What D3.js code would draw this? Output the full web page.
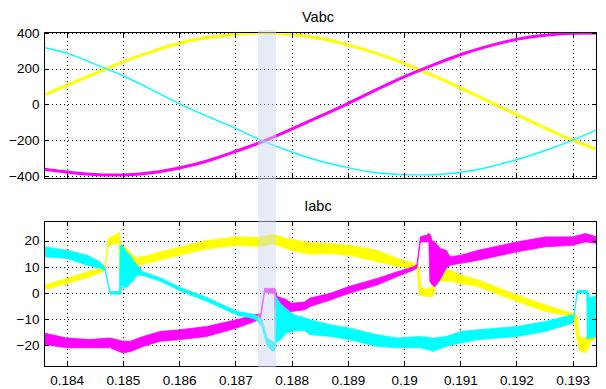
<!DOCTYPE html>
<html>
<head>
<meta charset="utf-8">
<script src="https://cdn.jsdelivr.net/npm/d3@7"></script>
<style>
  html, body { margin: 0; padding: 0; background: #fff; }
  svg { display: block; }
  text { font-family: "Liberation Sans", Arial, sans-serif; fill: #000; }
</style>
</head>
<body>
<svg id="chart" width="606" height="389"></svg>
<script>
// ---- time axis (milliseconds) ----
const timeDomain = [183.596, 193.432];
const timeTicks = [184, 185, 186, 187, 188, 189, 190, 191, 192, 193];

// ---- phase voltages, sampled every 0.5 ms ----
const voltTime = [183.5, 184.0, 184.5, 185.0, 185.5, 186.0, 186.5, 187.0, 187.5, 188.0,
                  188.5, 189.0, 189.5, 190.0, 190.5, 191.0, 191.5, 192.0, 192.5, 193.0, 193.5];
const vaValues = [40, 106, 172, 237, 293, 341, 373, 392, 399, 392, 369, 332, 286, 229, 163, 93, 19, -57, -130, -199, -258];
const vbValues = [-358, -376, -391, -393, -381, -354, -315, -262, -205, -138, -67, 5, 81, 154, 218, 277, 325, 363, 386, 397, 399];
const vcValues = [324, 286, 225, 160, 84, 4, -67, -133, -205, -265, -315, -352, -381, -391, -392, -379, -350, -308, -258, -199, -132];
const voltTicks = [-400, -200, 0, 200, 400];

// ---- phase currents: [time ms, ripple low, ripple high] ----
const iaBand = [
  [183.60, 1.1, 3.0], [184.00, 3.6, 5.5], [184.41, 6.2, 8.3], [184.65, 8.1, 9.6],
  [184.68, 8.6, 10.0], [184.74, 18.0, 21.0], [184.80, 18.5, 21.5], [184.90, 19.0, 22.5],
  [184.93, 19.5, 23.3], [184.94, 4.0, 22.5], [184.96, 9.0, 18.2], [185.05, 9.5, 17.5],
  [185.13, 10.0, 15.5], [185.18, 10.6, 14.0], [185.25, 10.6, 13.5], [185.36, 11.0, 13.8],
  [185.66, 12.5, 15.7], [186.02, 14.5, 17.5], [186.49, 16.8, 20.0], [187.02, 18.2, 21.4],
  [187.44, 17.8, 21.2], [187.67, 18.8, 22.3], [187.97, 16.5, 20.5], [188.15, 15.5, 19.8],
  [188.33, 14.8, 19.3], [188.69, 15.0, 18.8], [189.02, 14.4, 18.2], [189.52, 12.0, 16.3],
  [189.87, 10.2, 13.2], [190.17, 9.4, 11.3], [190.23, 9.8, 10.8], [190.27, -0.5, 10.0],
  [190.30, -1.0, 2.0], [190.40, -1.4, 1.5], [190.50, -1.4, 2.0], [190.53, -0.5, 8.0],
  [190.57, 4.0, 9.0], [190.64, 4.5, 9.0], [190.82, 4.5, 8.7], [191.01, 3.6, 6.8],
  [191.32, 2.4, 4.9], [192.01, -3.3, -0.8], [192.51, -7.1, -4.6], [192.99, -9.0, -7.8],
  [193.02, -9.5, -8.0], [193.08, -18.0, -9.0], [193.12, -22.0, -17.0], [193.23, -23.0, -17.3],
  [193.28, -21.0, -15.0], [193.31, -19.0, -4.0], [193.36, -18.0, -6.0], [193.43, -17.0, -10.0]
];
const ibBand = [
  [183.60, -19.8, -15.4], [184.00, -21.0, -17.3], [184.41, -21.0, -17.9], [184.77, -21.0, -17.3],
  [185.00, -23.0, -18.5], [185.13, -22.5, -18.5], [185.36, -20.5, -16.7], [185.66, -18.5, -14.8],
  [186.02, -17.9, -14.1], [186.49, -16.7, -12.9], [187.02, -13.5, -10.3], [187.34, -11.0, -8.4],
  [187.45, -10.0, -8.0], [187.52, 0.3, 1.7], [187.65, -0.2, 1.7], [187.70, -0.2, 1.7],
  [187.71, -17.0, 1.5], [187.74, -8.4, -1.4], [187.90, -8.0, -2.5], [188.00, -7.1, -4.0],
  [188.23, -6.5, -3.5], [188.33, -5.2, -2.0], [188.69, -2.7, -0.2], [189.02, -0.2, 2.4],
  [189.52, 3.0, 5.5], [189.87, 6.2, 8.0], [190.17, 8.7, 10.0], [190.23, 9.5, 10.8],
  [190.29, 19.5, 21.5], [190.40, 19.5, 22.0], [190.44, 20.0, 22.7], [190.46, 4.3, 22.5],
  [190.50, 3.0, 20.0], [190.55, 2.4, 19.5], [190.64, 5.0, 17.0], [190.75, 9.4, 16.3],
  [190.82, 10.6, 13.8], [191.01, 11.3, 14.4], [191.32, 12.5, 16.3], [192.01, 15.7, 19.5],
  [192.51, 17.6, 21.4], [192.99, 18.2, 21.4], [193.23, 19.5, 22.7], [193.43, 18.9, 21.4]
];
const icBand = [
  [183.60, 13.8, 17.6], [184.00, 13.2, 16.3], [184.36, 10.6, 14.4], [184.59, 9.4, 11.9],
  [184.68, 8.7, 9.8], [184.77, -0.5, 0.5], [184.94, -0.5, 0.5], [184.95, -0.5, 18.2],
  [185.00, 3.0, 18.0], [185.05, 1.7, 16.0], [185.13, 3.6, 14.4], [185.20, 5.0, 12.0],
  [185.25, 6.8, 10.6], [185.36, 6.6, 8.0], [185.66, 4.5, 5.8], [186.02, 0.7, 2.0],
  [186.49, -3.2, -1.8], [187.02, -8.4, -7.0], [187.32, -9.8, -8.2], [187.40, -11.0, -9.0],
  [187.47, -13.0, -10.0], [187.56, -20.0, -17.0], [187.65, -22.4, -18.5], [187.70, -22.0, -19.0],
  [187.72, -19.0, -1.4], [187.80, -18.0, -4.0], [187.90, -15.5, -6.0], [188.05, -14.5, -8.5],
  [188.23, -14.5, -9.5], [188.33, -16.0, -10.3], [188.69, -16.7, -12.2], [189.02, -17.9, -13.5],
  [189.52, -20.5, -16.0], [189.87, -21.0, -17.3], [190.29, -21.0, -16.7], [190.52, -22.4, -17.3],
  [190.75, -20.5, -16.7], [191.01, -19.2, -14.8], [191.32, -17.9, -14.1], [192.01, -16.7, -12.9],
  [192.51, -14.8, -11.0], [192.99, -11.6, -8.4], [193.02, -10.2, -8.8], [193.08, -0.1, 0.9],
  [193.25, -0.1, 0.9], [193.26, -17.9, 0.9], [193.30, -17.3, -2.0], [193.43, -16.7, -1.0]
];
const currTicks = [-20, -10, 0, 10, 20];

// highlighted time window (ms)
const markWindow = [187.404, 187.724];

const YELLOW = "#ffff00", MAGENTA = "#ff00ff", CYAN = "#00ffff";

const svg = d3.select("#chart");
const left = 44, right = 597;
const x = d3.scaleLinear().domain(timeDomain).range([left, right]);

function drawPanel(opts) {
  const { top, bottom, yDomain, yTicks, title, titleY, showTimeLabels, id } = opts;
  const y = d3.scaleLinear().domain(yDomain).range([bottom, top]);
  const g = svg.append("g");

  g.append("clipPath").attr("id", id)
    .append("rect").attr("x", left).attr("y", top).attr("width", right - left).attr("height", bottom - top);

  // dotted grid
  const grid = g.append("g").attr("shape-rendering", "crispEdges");
  grid.append("g").attr("transform", `translate(0,${bottom})`)
    .call(d3.axisBottom(x).tickValues(timeTicks).tickSize(-(bottom - top)).tickFormat(""));
  grid.append("g").attr("transform", `translate(${left},0)`)
    .call(d3.axisLeft(y).tickValues(yTicks).tickSize(-(right - left)).tickFormat(""));
  grid.selectAll(".domain").remove();
  grid.selectAll("line").attr("stroke", "#000").attr("stroke-dasharray", "1,3");

  // title
  g.append("text").attr("x", 318).attr("y", titleY)
    .attr("text-anchor", "middle").style("font-size", "14.5px").text(title);

  const plot = g.append("g").attr("clip-path", `url(#${id})`);

  // frame with inward ticks on all four sides
  const frame = g.append("g").attr("shape-rendering", "crispEdges");
  frame.append("g").attr("transform", `translate(0,${bottom})`)
    .call(d3.axisBottom(x).tickValues(timeTicks).tickSize(-5).tickPadding(9)
      .tickFormat(showTimeLabels ? d => String(+(d / 1000).toFixed(3)) : ""));
  frame.append("g").attr("transform", `translate(0,${top})`)
    .call(d3.axisTop(x).tickValues(timeTicks).tickSize(-5).tickFormat(""));
  frame.append("g").attr("transform", `translate(${left},0)`)
    .call(d3.axisLeft(y).tickValues(yTicks).tickSize(-5).tickPadding(4.5));
  frame.append("g").attr("transform", `translate(${right},0)`)
    .call(d3.axisRight(y).tickValues(yTicks).tickSize(-5).tickFormat(""));
  frame.selectAll(".domain").remove();
  frame.selectAll("line").attr("stroke", "#000");
  frame.selectAll("text").style("font-size", "13.5px").attr("font-family", null).attr("fill", "#000");
  frame.append("rect")
    .attr("x", left + 0.5).attr("y", top + 0.5)
    .attr("width", right - left - 1).attr("height", bottom - top)
    .attr("fill", "none").attr("stroke", "#000");

  return { y, plot };
}

// ---- voltages ----
const vPanel = drawPanel({ top: 32, bottom: 178, yDomain: [-410, 404], yTicks: voltTicks,
  title: "Vabc", titleY: 22, showTimeLabels: false, id: "clipV" });
const vLine = vals => d3.line()
  .x((d, i) => x(voltTime[i])).y(d => vPanel.y(d))
  .curve(d3.curveNatural)(vals);
[[vaValues, YELLOW, 3], [vbValues, MAGENTA, 3], [vcValues, CYAN, 1.4]].forEach(([vals, c, w]) => {
  vPanel.plot.append("path").attr("d", vLine(vals))
    .attr("fill", "none").attr("stroke", c).attr("stroke-width", w);
});

// ---- currents ----
const iPanel = drawPanel({ top: 221, bottom: 366, yDomain: [-28, 27.5], yTicks: currTicks,
  title: "Iabc", titleY: 211, showTimeLabels: true, id: "clipI" });
const band = d3.area()
  .x(d => x(d[0])).y0(d => iPanel.y(d[1])).y1(d => iPanel.y(d[2]));
[[iaBand, YELLOW], [ibBand, MAGENTA], [icBand, CYAN]].forEach(([rows, c]) => {
  iPanel.plot.append("path").attr("d", band(rows))
    .attr("fill", c).attr("stroke", c).attr("stroke-width", 0.8).attr("stroke-linejoin", "round");
});

// ---- highlighted window across both panels ----
svg.append("rect")
  .attr("x", x(markWindow[0])).attr("y", 30)
  .attr("width", x(markWindow[1]) - x(markWindow[0])).attr("height", 337)
  .attr("fill", "rgb(205,216,236)").attr("opacity", 0.5);
</script>
</body>
</html>
